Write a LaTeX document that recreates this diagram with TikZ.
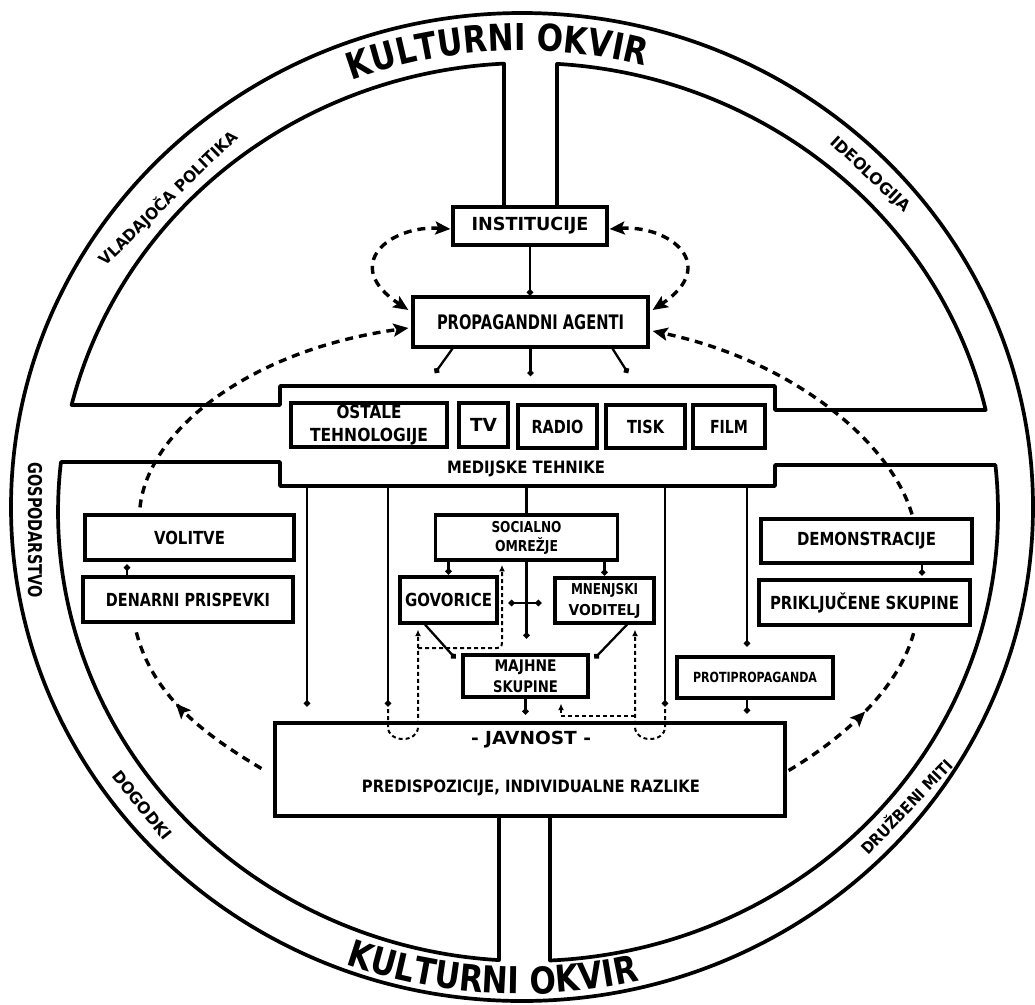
\documentclass[tikz,border=0pt]{standalone}
\usepackage{fontspec}
\setmainfont{DejaVu Sans}
\newfontfamily\ringfont{DejaVu Sans Bold}[FakeStretch=0.84]
\usepackage{graphicx}
\usetikzlibrary{arrows.meta,decorations.text,decorations.markings,calc}
\newcommand\fw[2]{\resizebox{#1pt}{\height}{#2}}
\begin{document}
\begin{tikzpicture}[x=1pt,y=-1pt,
  box/.style={draw,line width=3.2pt,inner sep=0pt,align=center,font=\bfseries\fontsize{18}{23}\selectfont},
  ringln/.style={line width=3.7pt,line join=round},
  conn/.style={line width=2.3pt,-{Circle[length=6pt]}},
  solidln/.style={line width=2.3pt},
  dbig/.style={line width=3.4pt,dash pattern=on 8pt off 6pt},
  BT/.tip={Stealth[length=15pt,width=13pt,inset=3pt]},
  sdash/.style={line width=2pt,dash pattern=on 4pt off 3pt,-{Latex[length=6.5pt,width=6pt]}},
  ringlbl/.style={inner sep=0pt,font=\bfseries\fontsize{16}{16}\selectfont},
  lbl/.style={inner sep=0pt,font=\bfseries\fontsize{17}{17}\selectfont},
]
\fill[white] (0,0) rectangle (1035,1004);
\useasboundingbox (0,0) rectangle (1035,1004);

% ---------- ring and quadrant frame ----------
\draw[ringln] (522,507) ellipse[x radius=511, y radius=494];
\draw[ringln] (504,207) -- (504,63.6)
  arc[start angle=267.07, end angle=193.79, x radius=470, y radius=449]
  -- (280,405) -- (280,386) -- (775,386) -- (775,410) -- (985.7,410)
  arc[start angle=346.87, end angle=273.54, x radius=470, y radius=449]
  -- (557,207);
\draw[ringln] (499,816) -- (499,960.1)
  arc[start angle=93.54, end angle=186.39, x radius=470, y radius=449]
  -- (280,462) -- (280,486) -- (775,486) -- (775,465) -- (995.4,465)
  arc[start angle=353.99, end angle=447.32, x radius=470, y radius=449]
  -- (550,816);

% ---------- ring texts ----------
\path[decorate,decoration={text along path,text align=center,
  text={|\ringfont\fontsize{37}{37}\selectfont|KULTURNI OKVIR}}]
  (196.7,173.3) arc[start angle=227, end angle=307, x radius=477, y radius=457];
\path[decorate,decoration={text along path,text align=center,
  text={|\ringfont\fontsize{37}{37}\selectfont|KULTURNI OKVIR}}]
  (170.2,860.2) arc[start angle=133.5, end angle=53.5, x radius=511, y radius=487];

\node[ringlbl,rotate=44] (vlad) at (168,198) {\fw{185}{VLADAJOČA POLITIKA}};
\node[ringlbl,rotate=-43] (ideo) at (870,175) {\fw{103}{IDEOLOGIJA}};
\node[ringlbl,rotate=-90,font=\bfseries\fontsize{19}{19}\selectfont] (gosp) at (35,530) {\fw{135}{GOSPODARSTVO}};
\node[ringlbl,rotate=-51] (dogo) at (142,805) {\fw{84}{DOGODKI}};
\node[ringlbl,rotate=46] (druz) at (906,806) {\fw{124}{DRUŽBENI MITI}};

% ---------- boxes ----------
\node[box,minimum width=154pt,minimum height=38pt] (inst) at (530,226) {\fw{117}{INSTITUCIJE}};
\node[box,minimum width=235pt,minimum height=50pt,font=\bfseries\fontsize{20}{20}\selectfont] (pa) at (530.5,322) {\fw{187}{PROPAGANDNI AGENTI}};
\node[box,minimum width=156pt,minimum height=44pt] (ostale) at (369,425) {\fw{65}{OSTALE}\\\fw{118}{TEHNOLOGIJE}};
\node[box,minimum width=49pt,minimum height=44pt] (tv) at (483.5,425) {\fw{27}{TV}};
\node[box,minimum width=79pt,minimum height=43pt] (radio) at (557.5,426.5) {\fw{52}{RADIO}};
\node[box,minimum width=79pt,minimum height=43pt] (tisk) at (645.5,426.5) {\fw{37}{TISK}};
\node[box,minimum width=72pt,minimum height=43pt] (film) at (729,426.5) {\fw{38}{FILM}};
\node[lbl] (medtext) at (526,469) {\fw{158}{MEDIJSKE TEHNIKE}};

\node[box,minimum width=209pt,minimum height=45pt] (volitve) at (189.5,537.5) {\fw{71}{VOLITVE}};
\node[box,minimum width=210pt,minimum height=45pt] (denarni) at (188,599.5) {\fw{164}{DENARNI PRISPEVKI}};
\node[box,minimum width=211pt,minimum height=44pt] (demo) at (866.5,541) {\fw{139}{DEMONSTRACIJE}};
\node[box,minimum width=211pt,minimum height=45pt] (prik) at (864.5,602.5) {\fw{189}{PRIKLJUČENE SKUPINE}};

\node[box,line width=3.9pt,minimum width=182pt,minimum height=45pt,font=\bfseries\fontsize{15}{19}\selectfont] (social) at (526.5,537.5) {\fw{70}{SOCIALNO}\\\fw{63}{OMREŽJE}};
\node[box,minimum width=97pt,minimum height=46pt] (gov) at (448.5,600) {\fw{87}{GOVORICE}};
\node[box,minimum width=99pt,minimum height=45pt,font=\bfseries\fontsize{15}{21}\selectfont] (mnen) at (604.5,600.5) {\fw{67}{MNENJSKI}\\\fw{72}{VODITELJ}};
\node[box,minimum width=125pt,minimum height=42pt,font=\bfseries\fontsize{16}{21}\selectfont] (majhne) at (525.5,676) {\fw{62}{MAJHNE}\\\fw{65}{SKUPINE}};
\node[box,minimum width=156pt,minimum height=41pt,font=\bfseries\fontsize{14}{14}\selectfont] (proti) at (755,677.5) {\fw{124}{PROTIPROPAGANDA}};

\node[box,minimum width=510pt,minimum height=93pt] (javnost) at (530,769.5) {};
\node[lbl,font=\bfseries\fontsize{18}{18}\selectfont] (jav1) at (531,740) {\fw{120}{- JAVNOST -}};
\node[lbl] (jav2) at (531,788) {\fw{338}{PREDISPOZICIJE, INDIVIDUALNE RAZLIKE}};

% ---------- solid connectors ----------
\draw[conn] (inst.south) -- (inst.south |- pa.north);
\coordinate (pt1) at (435,373);
\coordinate (pt2) at (530.5,376);
\coordinate (pt3) at (628,373);
\draw[conn] ($(pa.south)+(-78,0)$) -- (pt1);
\draw[conn] (pa.south) -- (pt2);
\draw[conn] ($(pa.south)+(82,0)$) -- (pt3);

\coordinate (mb1) at (307,486);
\coordinate (mb2) at (388,486);
\coordinate (mb3) at (526.5,486);
\coordinate (mb4) at (665,486);
\coordinate (mb5) at (747,486);
\draw[conn,shorten >=15pt] (mb1) -- (mb1 |- javnost.north);
\draw[conn,shorten >=15pt] (mb2) -- (mb2 |- javnost.north);
\draw[solidln] (mb3) -- (social.north);
\draw[conn,shorten >=15pt] (mb4) -- (mb4 |- javnost.north);
\draw[conn,shorten >=9pt] (mb5) -- (mb5 |- proti.north);
\draw[conn,shorten >=8pt] (mb5 |- proti.south) -- (mb5 |- javnost.north);

\draw[conn,shorten >=1pt] (gov.north |- social.south) -- (gov.north);
\draw[conn,shorten >=1pt] (mnen.north |- social.south) -- (mnen.north);
\draw[conn,shorten >=15pt] (social.south) -- (social.south |- majhne.north);
\draw[line width=2.3pt,{Circle[length=6pt]}-{Circle[length=6pt]}] ($(gov.east)+(10,3)$) -- ($(mnen.west)+(-12,2.5)$);
\draw[conn] ($(gov.south)+(-23.5,0)$) -- ($(majhne.north west)+(-6,5)$);
\draw[conn] ($(mnen.south)+(22.5,0)$) -- ($(majhne.north east)+(5,5)$);
\draw[conn,shorten >=7pt] (majhne.south) -- (majhne.south |- javnost.north);
\draw[conn] ($(denarni.north)+(-61,0)$) -- ($(volitve.south)+(-62.5,3)$);
\draw[conn] ($(demo.south)+(55.5,0)$) -- ($(prik.north)+(57.5,-3)$);

% ---------- big dashed connectors ----------
\draw[dbig,-{BT}] ($(volitve.north)+(-49.5,-6)$) .. controls (148,430) and (250,350) .. ($(pa.west)+(-3,6)$);
\draw[dbig,-{BT}] ($(demo.north)+(45.5,-3)$) .. controls (890,440) and (790,360) .. ($(pa.east)+(3,9)$);
\draw[dbig,{BT}-{BT}] ($(inst.west)+(-1,3)$) .. controls (390,225) and (340,265) .. ($(pa.west)+(-3,-12)$);
\draw[dbig,{BT}-{BT}] ($(inst.east)+(1,3)$) .. controls (670,225) and (720,265) .. ($(pa.east)+(3,-12)$);
\draw[dbig,postaction={decorate},decoration={markings,mark=at position 0.55 with {\arrow{BT}}}]
  ($(javnost.west)+(-12,-1)$) .. controls (205,735) and (150,695) .. ($(denarni.south)+(-53,3)$);
\draw[dbig,postaction={decorate},decoration={markings,mark=at position 0.5 with {\arrow{BT}}}]
  ($(javnost.east)+(2,1)$) .. controls (840,740) and (900,690) .. ($(prik.south)+(50,3)$);

% ---------- small dashed feedback ----------
\coordinate (u1) at (388,709);
\coordinate (u2) at (418,648);
\coordinate (u3) at (665,709);
\coordinate (u4) at (635,716);
\draw[sdash] (u1) -- (388,727) .. controls (388,743) and (418,743) .. (418,727) -- ($(gov.south)+(-30.5,5)$);
\draw[sdash] (u2) -- (497,648) .. controls (502,648) and (502,645) .. (502,640) -- ($(social.south)+(-24.5,3)$);
\draw[sdash] (u3) -- (665,727) .. controls (665,743) and (635,743) .. (635,727) -- ($(mnen.south)+(30.5,5)$);
\draw[sdash] (u4) -- (561,716) -- ($(majhne.south)+(35.5,5)$);
\end{tikzpicture}
\end{document}
